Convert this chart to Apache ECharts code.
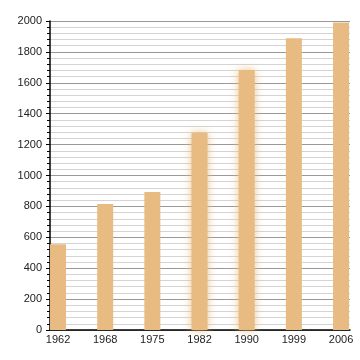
<!DOCTYPE html>
<html><head><meta charset="utf-8">
<script src="https://cdn.jsdelivr.net/npm/echarts@6/dist/echarts.min.js"></script>
<style>html,body{margin:0;padding:0;background:#fff}#c{width:360px;height:360px}</style>
</head><body><div id="c"></div>
<script>
const years = ['1962','1968','1975','1982','1990','1999','2006'];
const values = [555, 815, 893, 1277, 1683, 1888, 1991];
const blurred = [false, false, false, true, true, false, false];
const yTicks = [0, 200, 400, 600, 800, 1000, 1200, 1400, 1600, 1800, 2000];

const barColor = '#e7bb82';
const chart = echarts.init(document.getElementById('c'));
chart.setOption({
  animation: false,
  grid: {left: 50, right: 10, top: 21, bottom: 30},
  xAxis: {
    type: 'value', min: -0.17, max: 6.19,
    axisLine: {show: true, onZero: false, lineStyle: {color: '#000', width: 1.5}},
    axisTick: {show: false},
    splitLine: {show: false},
    axisLabel: {
      customValues: years.map((_, i) => i),
      formatter: v => years[Math.round(v)],
      color: '#222', fontSize: 11, fontFamily: 'Liberation Sans', margin: 4
    }
  },
  yAxis: {
    type: 'value', min: yTicks[0], max: yTicks[yTicks.length - 1], interval: 200,
    axisLine: {show: true, onZero: false, lineStyle: {color: '#000', width: 1.5}},
    axisTick: {show: true, length: 4, lineStyle: {color: '#000'}},
    minorTick: {show: true, splitNumber: 5, length: 3, lineStyle: {color: '#000'}},
    splitLine: {show: true, lineStyle: {color: '#999', width: 1}},
    minorSplitLine: {show: true, lineStyle: {color: '#d4d4d4', width: 1}},
    axisLabel: {color: '#222', fontSize: 11, fontFamily: 'Liberation Sans', margin: 8, formatter: v => String(v)}
  },
  series: [{
    type: 'bar', barWidth: 16,
    data: values.map((v, i) => ({
      value: [i, v],
      itemStyle: blurred[i] ? {color: barColor, shadowBlur: 8, shadowColor: 'rgba(231,187,130,0.9)'} : {color: barColor}
    }))
  }]
});
</script></body></html>
